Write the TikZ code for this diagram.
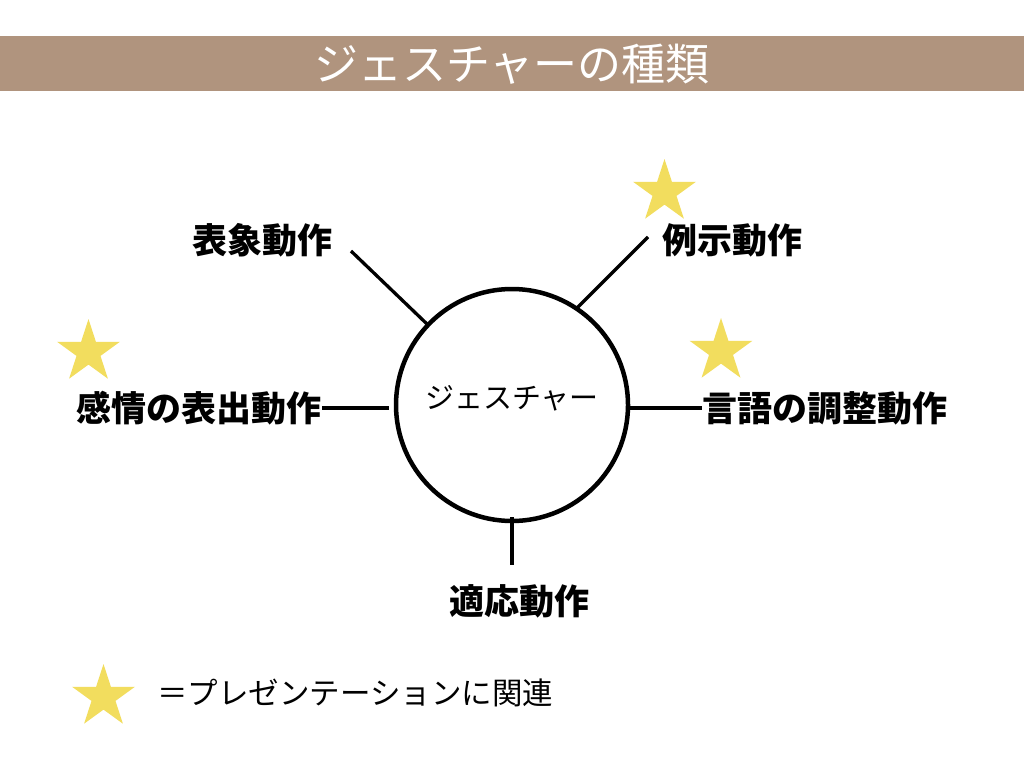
\documentclass[tikz,border=0pt]{standalone}
\usepackage{fontspec}
\setmainfont{Noto Sans CJK JP}
\newfontfamily\jp{Noto Sans CJK JP}
\usetikzlibrary{shapes.geometric}
\definecolor{banner}{RGB}{176,148,126}
\definecolor{staryellow}{RGB}{242,221,94}
\tikzset{
  lbl/.style={font=\jp\fontsize{35}{40}\selectfont\bfseries, inner sep=0pt},
  conn/.style={line width=3.3pt},
  starmark/.style={star, star points=5, star point ratio=2.618, fill=staryellow, draw=none, inner sep=0pt, minimum size=66pt},
}
\begin{document}
\begin{tikzpicture}[x=1pt,y=-1pt]
\useasboundingbox (0,0) rectangle (1024,768);
\fill[white] (0,0) rectangle (1024,768);
% banner
\fill[banner] (0,36) rectangle (1024,91);
\node[font=\jp\fontsize{44}{48}\selectfont, text=white, inner sep=0pt] (title) at (512,64) {ジェスチャーの種類};
% circle
\node[circle, draw, line width=4.5pt, minimum size=232pt, inner sep=0pt] (g) at (512,405) {};
\node[font=\jp\fontsize{29}{32}\selectfont, inner sep=0pt] (gt) at (512,398) {ジェスチャー};
% labels
\node[lbl] (hyosho) at (262,240) {表象動作};
\node[lbl] (reiji) at (732,240) {例示動作};
\node[lbl, anchor=east] (kanjo) at (322,408) {感情の表出動作};
\node[lbl, anchor=west] (gengo) at (702,408) {言語の調整動作};
\node[lbl] (tekio) at (519,601) {適応動作};
% connector end points
\coordinate (a1) at (351,251); \coordinate (a2) at (427,324);
\coordinate (b1) at (648,237); \coordinate (b2) at (577,308);
\coordinate (c1) at (389,408);
\coordinate (d1) at (630,408);
\coordinate (e1) at (512,517); \coordinate (e2) at (512,565);
\draw[conn] (a1) -- (a2);
\draw[conn] (b1) -- (b2);
\draw[conn] (kanjo.east) -- (c1);
\draw[conn] (d1) -- (gengo.west);
\draw[conn] (e1) -- (e2);
% stars
\node[starmark] (s1) at (664.5,192) {};
\node[starmark] (s2) at (88.5,352) {};
\node[starmark] (s3) at (721,351) {};
\node[starmark] (s4) at (103.5,697) {};
% legend
\node[font=\jp\fontsize{30.5}{34}\selectfont, inner sep=0pt, anchor=west] (legend) at (157,693) {＝プレゼンテーションに関連};
\end{tikzpicture}
\end{document}
